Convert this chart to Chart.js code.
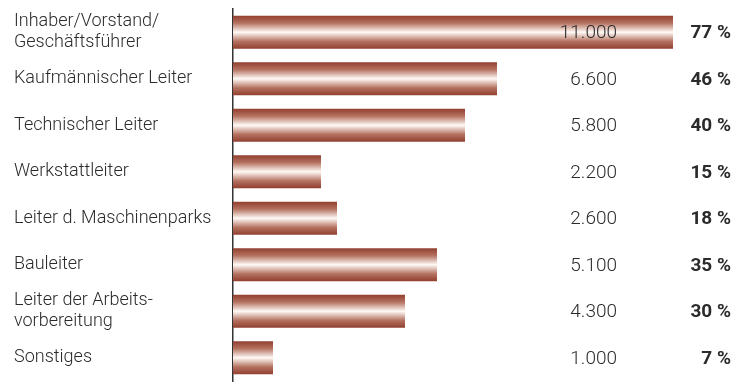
<!DOCTYPE html>
<html>
<head>
<meta charset="utf-8">
<script src="https://cdn.jsdelivr.net/npm/chart.js@4"></script>
<style>
  html, body { margin: 0; padding: 0; background: #fff; }
  #wrap { width: 735px; height: 382px; }
</style>
</head>
<body>
<div id="wrap"><canvas id="myChart"></canvas></div>
<script>
const categories = [
  ['Inhaber/Vorstand/', 'Geschäftsführer'],
  'Kaufmännischer Leiter',
  'Technischer Leiter',
  'Werkstattleiter',
  'Leiter d. Maschinenparks',
  'Bauleiter',
  ['Leiter der Arbeits-', 'vorbereitung'],
  'Sonstiges'
];
const counts = [11000, 6600, 5800, 2200, 2600, 5100, 4300, 1000];
const percents = [77, 46, 40, 15, 18, 35, 30, 7];

const fontFamily = 'Roboto, "Noto Sans", sans-serif';
const textColor = '#2b2b2b';

// cylinder look: dark edges, white middle (one gradient per bar)
function barShade(context) {
  const chart = context.chart;
  const y = chart.scales.y;
  if (!y || !chart.chartArea) return '#b4715f';
  const step = y.getPixelForValue(1) - y.getPixelForValue(0);
  const h = step * 0.71;
  const top = y.getPixelForValue(context.dataIndex) - h / 2;
  const g = chart.ctx.createLinearGradient(0, top, 0, top + h);
  g.addColorStop(0, '#923f30');
  g.addColorStop(0.22, '#b4715f');
  g.addColorStop(0.5, '#fffaf6');
  g.addColorStop(0.78, '#b4715f');
  g.addColorStop(1, '#923f30');
  return g;
}

// value and percent columns on the right
const numberColumns = {
  id: 'numberColumns',
  afterDatasetsDraw(chart) {
    const ctx = chart.ctx;
    const y = chart.scales.y;
    const right = chart.chartArea.right;
    ctx.save();
    ctx.textBaseline = 'middle';
    ctx.textAlign = 'right';
    ctx.fillStyle = textColor;
    counts.forEach(function (v, i) {
      const py = y.getPixelForValue(i);
      ctx.font = '300 19px ' + fontFamily;
      ctx.fillText(v.toLocaleString('de-DE'), right - 116, py + 1);
      ctx.font = 'bold 19px ' + fontFamily;
      ctx.fillText(percents[i] + ' %', right - 2, py + 1);
    });
    ctx.restore();
  }
};

var ctx = document.getElementById('myChart').getContext('2d');
var myChart = new Chart(ctx, {
  type: 'bar',
  data: {
    labels: categories,
    datasets: [{
      data: counts,
      backgroundColor: barShade,
      borderWidth: 0,
      categoryPercentage: 1,
      barPercentage: 0.71
    }]
  },
  plugins: [numberColumns],
  options: {
    indexAxis: 'y',
    responsive: true,
    maintainAspectRatio: false,
    animation: false,
    layout: { padding: { left: 14, right: 2, top: 9, bottom: 1 } },
    plugins: {
      legend: { display: false },
      tooltip: { enabled: false }
    },
    scales: {
      x: {
        display: false,
        min: 0,
        max: 12500
      },
      y: {
        grid: { display: false, drawTicks: false },
        border: { display: true, color: '#333', width: 1.5 },
        ticks: {
          crossAlign: 'far',
          color: textColor,
          font: { family: fontFamily, size: 18, weight: '300', lineHeight: 1.17 },
          padding: 0
        },
        afterFit: function (scale) {
          scale.width = 219;
          scale.paddingTop = 0;
          scale.paddingBottom = 0;
        }
      }
    }
  }
});
</script>
</body>
</html>
